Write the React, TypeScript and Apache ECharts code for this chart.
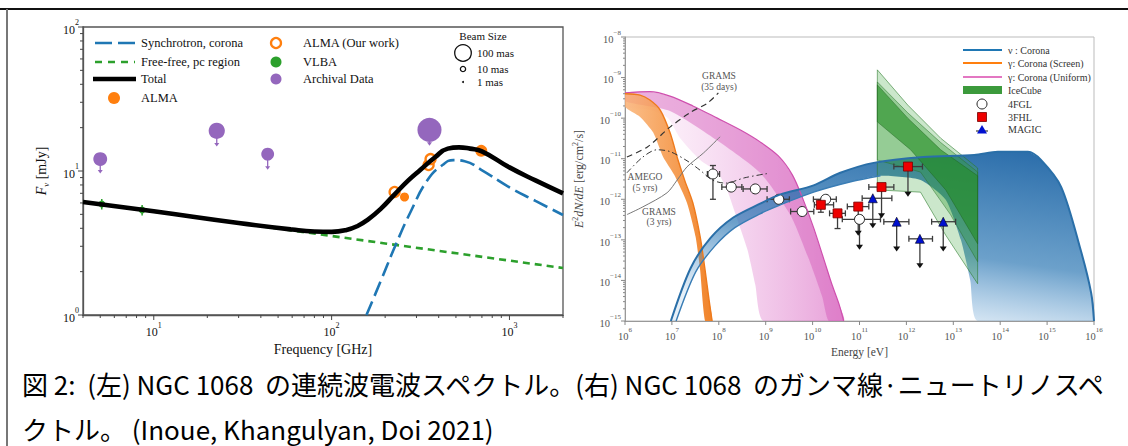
import React, { useEffect, useRef } from "react";
import * as echarts from "echarts";

// ================= Left panel: NGC 1068 radio continuum (GHz, mJy) =================
const ffFreq = [4, 30, 200, 2000];
const ffFlux = [6.1, 4.35, 3.14, 2.12];
const syncFreq = [157, 190, 229, 280, 347, 420, 484, 560, 694, 1000, 1400, 2000];
const syncFlux = [1.0, 1.75, 3.06, 5.3, 8.7, 11.0, 11.9, 11.7, 10.2, 7.7, 6.2, 4.95];
const totalFreq = [4, 10, 30, 60, 80, 100, 120, 140, 160, 190, 224, 270, 316, 380, 450, 520, 600, 700, 1000, 1400, 2000];
const totalFlux = [6.1, 5.25, 4.35, 3.92, 3.8, 3.78, 3.88, 4.15, 4.6, 5.5, 6.8, 8.6, 10.2, 12.4, 14.3, 14.6, 14.3, 13.7, 10.6, 8.6, 7.0];
const vlbaFreq = [5.1, 8.6];
const vlbaFlux = [5.9, 5.36];
const vlbaErr = [0.5, 0.45];
const almaFreq = [257, 694];
const almaFlux = [6.6, 13.8];
const almaOursFreq = [226, 351, 360];
const almaOursFlux = [7.15, 11.0, 12.1];
const archFreq = [5.0, 22.6, 43.7, 355];
const archFlux = [12.1, 19.0, 13.1, 19.3];
const archLimitTip = [9.7, 14.9, 10.3, 15.1];
const archBeamMas = [70, 95, 60, 210];
const beamLegendMas = [100, 10, 1];

// ================= Right panel: gamma-ray / neutrino spectrum (eV, erg/cm2/s) =================
const screenUpper = [[1e6, 4.0e-10], [2.1e6, 3.7e-10], [3.4e6, 2.8e-10], [5.6e6, 1.6e-10], [9.1e6, 4.4e-11], [1.35e7, 9.3e-12], [1.9e7, 2.8e-12], [2.8e7, 8.1e-13], [4.0e7, 1.2e-13], [5.1e7, 1.8e-14], [6.2e7, 3.3e-15], [7.2e7, 1e-15]];
const screenLower = [[1e6, 1.9e-10], [2.1e6, 1.07e-10], [4.0e6, 4.4e-11], [6.5e6, 1.1e-11], [1.12e7, 4.0e-12], [2.1e7, 8.1e-13], [3.2e7, 1.2e-13], [4.0e7, 1.8e-14], [5.1e7, 1e-15]];
const uniformUpper = [[1e6, 4.2e-10], [3.4e6, 4.5e-10], [9.1e6, 3.5e-10], [2.8e7, 2.0e-10], [9.3e7, 1.0e-10], [2.9e8, 5.1e-11], [7.6e8, 2.6e-11], [1.86e9, 1.17e-11], [3.7e9, 4.0e-12], [6.3e9, 9.8e-13], [1.05e10, 2.0e-13], [1.7e10, 3.6e-14], [2.6e10, 7.8e-15], [3.7e10, 2.5e-15], [4.6e10, 1e-15]];
const uniformCoreLower = [[1e6, 2.6e-10], [9.1e6, 1.5e-10], [9.3e7, 2.8e-11], [7.6e8, 4.5e-12], [3.4e9, 4.0e-13], [8.2e9, 3.5e-14], [1.6e10, 4.0e-15], [2.2e10, 1e-15]];
const uniformLower = [[1e6, 1.9e-10], [3.4e6, 1.6e-10], [8.3e6, 1.0e-10], [1.5e7, 3.2e-11], [4.0e7, 9.3e-12], [9.3e7, 4.7e-12], [1.5e8, 1.7e-12], [2.5e8, 3.1e-13], [4.1e8, 5.6e-14], [6.0e8, 7.8e-15], [8.9e8, 1e-15]];
const nuUpper = [[9.5e6, 1e-15], [2.5e7, 2.0e-14], [6.6e7, 1.1e-13], [2.0e8, 3.5e-13], [7.6e8, 7.8e-13], [2.0e9, 1.3e-12], [1.05e10, 2.2e-12], [3.9e10, 4.5e-12], [2.0e11, 7.9e-12], [2.3e12, 1.1e-11], [2.8e13, 1.23e-11], [8.9e13, 1.48e-11], [3.9e14, 1.48e-11], [7.4e14, 9.3e-12], [2.0e15, 2.0e-12], [5.2e15, 5.6e-14], [8.7e15, 4.9e-15], [1e16, 1e-15]];
const nuLower = [[1.23e7, 1e-15], [3.2e7, 1.6e-14], [8.3e7, 7.1e-14], [2.2e8, 2.0e-13], [7.6e8, 4.4e-13], [2.0e9, 7.2e-13], [1.05e10, 1.5e-12], [6.5e10, 2.7e-12], [2.8e11, 3.8e-12], [2.0e12, 3.0e-12], [6.9e12, 9.8e-13], [1.45e13, 1.0e-13], [2.3e13, 1.0e-14], [3.3e13, 1e-15]];
const iceOuterUpper = [[2.4e11, 1.55e-9], [1.07e12, 2.1e-10], [5.4e12, 3.2e-11], [3.3e13, 5.9e-12]];
const iceOuterLower = [[2.4e11, 1.7e-12], [2.0e12, 1.5e-12], [6.9e12, 1.3e-13], [3.3e13, 8.3e-15]];
const iceMidUpper = [[2.4e11, 7.8e-10], [1.07e12, 1.35e-10], [5.4e12, 2.5e-11], [3.3e13, 4.7e-12]];
const iceMidLower = [[2.4e11, 9.3e-12], [2.0e12, 4.7e-12], [8.7e12, 4.2e-13], [3.3e13, 2.9e-14]];
const iceInnerUpper = [[2.4e11, 6.6e-10], [1.07e12, 1.0e-10], [5.4e12, 1.66e-11], [3.3e13, 3.8e-12]];
const iceInnerLower = [[2.4e11, 8.1e-11], [1.23e12, 1.66e-11], [6.9e12, 1.7e-12], [3.3e13, 8.0e-14]];
const grams35 = [[1.1e6, 1.1e-11], [3.0e6, 1.95e-11], [9.1e6, 6.0e-11], [2.5e7, 1.4e-10], [5.6e7, 2.3e-10], [9.8e7, 4.2e-10]];
const amego5 = [[1.1e6, 4.5e-12], [2.4e6, 1.1e-11], [4.8e6, 1.66e-11], [9.1e6, 1.5e-11], [2.1e7, 8.9e-12], [4.0e7, 5.2e-12], [7.2e7, 3.0e-12], [1.38e8, 2.5e-12], [3.6e8, 3.4e-12], [1.07e9, 4.3e-12]];
const grams3 = [[1.1e6, 4.2e-13], [2.4e6, 6.5e-13], [7.9e6, 1.45e-12], [1.3e7, 3.0e-12], [2.1e7, 6.3e-12], [4.7e7, 1.38e-11], [1.07e8, 3.5e-11]];

const fglE = [7.5e7, 1.84e8, 6.0e8, 1.9e9, 6.0e9, 1.9e10, 1.0e11];
const fglF = [4.2e-12, 2.0e-12, 1.8e-12, 1.0e-12, 5.0e-13, 1.0e-12, 3.2e-13];
const fglElo = [5.7e7, 1.16e8, 3.3e8, 1.07e9, 3.4e9, 1.04e10, 4.3e10];
const fglEhi = [1.04e8, 3.1e8, 1.07e9, 3.2e9, 1.06e10, 3.2e10, 2.8e11];
const fglFlo = [1.0e-12, null, null, null, null, null, null];
const fglFhi = [6.8e-12, null, null, null, null, null, null];
const fglUL = [null, null, null, null, null, null, 5.7e-14];

const fhlE = [1.5e10, 3.4e10, 9.4e10, 2.95e11, 1.08e12];
const fhlF = [7.3e-13, 4.5e-13, 6.6e-13, 2.0e-12, 6.4e-12];
const fhlElo = [1.09e10, 2.3e10, 5.5e10, 1.58e11, 5.4e11];
const fhlEhi = [2.8e10, 5.0e10, 1.58e11, 5.4e11, 2.2e12];
const fhlFlo = [4.8e-13, 1.9e-13, null, null, null];
const fhlFhi = [9.7e-13, 4.5e-13, null, null, null];
const fhlUL = [null, null, 1.26e-13, 3.4e-13, 1.16e-12];

const magE = [1.92e11, 6.2e11, 1.94e12, 6.1e12];
const magF = [1.06e-12, 2.8e-13, 1.06e-13, 2.8e-13];
const magElo = [1.14e11, 3.3e11, 1.13e12, 3.45e12];
const magEhi = [4.9e11, 1.13e12, 3.6e12, 1.12e13];
const magUL = [1.94e-13, 5.2e-14, 2.0e-14, 5.2e-14];

const captionLine1 = "図 2:  (左) NGC 1068  の連続波電波スペクトル。(右) NGC 1068  のガンマ線·ニュートリノスペ";
const captionLine2 = "クトル。 (Inoue, Khangulyan, Doi 2021)";

// ================= helpers =================
const SERIF = "'Liberation Serif', 'DejaVu Serif', serif";
const lg = (v: number) => Math.log10(v);
const toLog = (pts: number[][]) => pts.map((p) => [lg(p[0]), lg(p[1])]);

function powLabel(v: number) {
  const k = Math.round(v);
  if (Math.abs(v - k) > 1e-6) return "";
  return `{b|10}{s|${k < 0 ? "\u2212" + -k : k}}`;
}
function powRich(size: number, color: string) {
  return {
    b: { fontSize: size, fontFamily: SERIF, color, lineHeight: size + 5, verticalAlign: "bottom" },
    s: { fontSize: Math.round(size * 0.7), fontFamily: SERIF, color, lineHeight: Math.round(size * 0.8), verticalAlign: "top" },
  };
}

function tickSeries(gi: number, data: number[][], color: string, dir: "down" | "left") {
  return {
    type: "custom", xAxisIndex: gi, yAxisIndex: gi, z: 10, silent: true,
    data, encode: { x: 0, y: 1 },
    renderItem: (params: any, api: any) => {
      const p = api.coord([api.value(0), api.value(1)]);
      const len = api.value(2);
      const shape = dir === "down"
        ? { x1: p[0], y1: p[1], x2: p[0], y2: p[1] + len }
        : { x1: p[0] - len, y1: p[1], x2: p[0], y2: p[1] };
      return { type: "line", shape, style: { stroke: color, lineWidth: 1 } };
    },
  };
}

function decadeTicks(lo: number, hi: number) {
  const out: { v: number; major: boolean }[] = [];
  for (let d = Math.floor(lo) - 1; d <= Math.ceil(hi); d++) {
    for (let m = 1; m <= 9; m++) {
      const v = d + Math.log10(m);
      if (v < lo - 1e-9 || v > hi + 1e-9) continue;
      out.push({ v, major: m === 1 });
    }
  }
  return out;
}

function bandSeries(upper: number[][], lower: number[][], fill: any, stroke: string | null, smooth: number) {
  const poly = toLog([...upper, ...lower.slice().reverse()]);
  return {
    type: "custom", xAxisIndex: 1, yAxisIndex: 1, silent: true, clip: true,
    data: poly, encode: { x: 0, y: 1 },
    renderItem: (params: any, api: any) => {
      if (params.dataIndex !== 0) return null;
      const points = poly.map((p) => api.coord(p));
      return {
        type: "polygon",
        shape: { points, smooth },
        style: { fill, stroke: stroke || "none", lineWidth: 0.8 },
      };
    },
  };
}

function edgeLine(pts: number[][], color: string, width: number, dash?: any) {
  return {
    type: "line", xAxisIndex: 1, yAxisIndex: 1, silent: true, symbol: "none", smooth: 0.3,
    data: toLog(pts),
    lineStyle: { color, width, type: dash || "solid" },
  };
}

function errBarSeries(E: number[], F: number[], xlo: number[], xhi: number[], ylo: any[] | null, yhi: any[] | null, ul: any[] | null) {
  return {
    type: "custom", xAxisIndex: 1, yAxisIndex: 1, silent: true,
    data: E.map((e, i) => [lg(e), lg(F[i])]), encode: { x: 0, y: 1 },
    renderItem: (params: any, api: any) => {
      const i = params.dataIndex;
      const yv = lg(F[i]);
      const c = api.coord([lg(E[i]), yv]);
      const a = api.coord([lg(xlo[i]), yv]);
      const b = api.coord([lg(xhi[i]), yv]);
      const st = { stroke: "#3c3c3c", lineWidth: 1.3 };
      const ch: any[] = [
        { type: "line", shape: { x1: a[0], y1: a[1], x2: b[0], y2: b[1] }, style: st },
        { type: "line", shape: { x1: a[0], y1: a[1] - 3, x2: a[0], y2: a[1] + 3 }, style: st },
        { type: "line", shape: { x1: b[0], y1: b[1] - 3, x2: b[0], y2: b[1] + 3 }, style: st },
      ];
      if (ylo && ylo[i] != null) {
        const lo = api.coord([lg(E[i]), lg(ylo[i])]);
        const hi = api.coord([lg(E[i]), lg(yhi![i])]);
        ch.push({ type: "line", shape: { x1: lo[0], y1: lo[1], x2: hi[0], y2: hi[1] }, style: st });
        ch.push({ type: "line", shape: { x1: lo[0] - 3, y1: lo[1], x2: lo[0] + 3, y2: lo[1] }, style: st });
        ch.push({ type: "line", shape: { x1: hi[0] - 3, y1: hi[1], x2: hi[0] + 3, y2: hi[1] }, style: st });
      }
      if (ul && ul[i] != null) {
        const t = api.coord([lg(E[i]), lg(ul[i])]);
        ch.push({ type: "line", shape: { x1: c[0], y1: c[1], x2: t[0], y2: t[1] - 4 }, style: st });
        ch.push({ type: "polygon", shape: { points: [[t[0] - 3.5, t[1] - 5], [t[0] + 3.5, t[1] - 5], [t[0], t[1]]] }, style: { fill: "#111" } });
      }
      return { type: "group", children: ch };
    },
  };
}

function buildOption() {
  const LX = [lg(4), lg(2000)];
  const LY = [0, 2];
  const RX = [6, 16];
  const RY = [-15, -8];

  const leftXTicks = decadeTicks(LX[0], LX[1]).map((t) => [t.v, LY[0], t.major ? 5 : 3]);
  const leftYTicks = decadeTicks(LY[0], LY[1]).map((t) => [LX[0], t.v, t.major ? 5 : 3]);
  const rightYTicks = decadeTicks(RY[0], RY[1]).map((t) => [RX[0], t.v, t.major ? 4 : 2]);
  const rightXTicks = decadeTicks(RX[0], RX[1]).filter((t) => t.major).map((t) => [t.v, RY[0], 4]);

  const leftAxisCommon = {
    axisLine: { show: true, lineStyle: { color: "#555", width: 1.3 } },
    axisTick: { show: false },
    splitLine: { show: false },
  };
  const rightAxisCommon = {
    axisLine: { show: true, lineStyle: { color: "#999", width: 1 } },
    axisTick: { show: false },
    splitLine: { show: false },
  };

  const series: any[] = [
    // ---------- left ----------
    {
      type: "line", xAxisIndex: 0, yAxisIndex: 0, silent: true, symbol: "none",
      data: ffFreq.map((f, i) => [lg(f), lg(ffFlux[i])]),
      lineStyle: { color: "#2ca02c", width: 2.6, type: [7, 5] },
    },
    {
      type: "line", xAxisIndex: 0, yAxisIndex: 0, silent: true, symbol: "none", smooth: 0.5,
      data: syncFreq.map((f, i) => [lg(f), lg(syncFlux[i])]),
      lineStyle: { color: "#1f77b4", width: 2.6, type: [15, 6] },
    },
    {
      type: "line", xAxisIndex: 0, yAxisIndex: 0, silent: true, symbol: "none", smooth: 0.5,
      data: totalFreq.map((f, i) => [lg(f), lg(totalFlux[i])]),
      lineStyle: { color: "#000", width: 4.6 },
    },
    {
      type: "custom", xAxisIndex: 0, yAxisIndex: 0, silent: true,
      data: archFreq.map((f, i) => [lg(f), lg(archFlux[i])]), encode: { x: 0, y: 1 },
      renderItem: (params: any, api: any) => {
        const i = params.dataIndex;
        const c = api.coord([lg(archFreq[i]), lg(archFlux[i])]);
        const t = api.coord([lg(archFreq[i]), lg(archLimitTip[i])]);
        return {
          type: "group",
          children: [
            { type: "line", shape: { x1: c[0], y1: c[1], x2: t[0], y2: t[1] - 2 }, style: { stroke: "#9467bd", lineWidth: 1.3 } },
            { type: "polygon", shape: { points: [[t[0] - 2.5, t[1] - 3], [t[0] + 2.5, t[1] - 3], [t[0], t[1] + 0.5]] }, style: { fill: "#9467bd" } },
          ],
        };
      },
    },
    {
      type: "custom", xAxisIndex: 0, yAxisIndex: 0, silent: true,
      data: vlbaFreq.map((f, i) => [lg(f), lg(vlbaFlux[i])]), encode: { x: 0, y: 1 },
      renderItem: (params: any, api: any) => {
        const i = params.dataIndex;
        const lo = api.coord([lg(vlbaFreq[i]), lg(vlbaFlux[i] - vlbaErr[i])]);
        const hi = api.coord([lg(vlbaFreq[i]), lg(vlbaFlux[i] + vlbaErr[i])]);
        return { type: "line", shape: { x1: lo[0], y1: lo[1], x2: hi[0], y2: hi[1] }, style: { stroke: "#2ca02c", lineWidth: 1.5 } };
      },
    },
    {
      type: "scatter", xAxisIndex: 0, yAxisIndex: 0, silent: true,
      data: archFreq.map((f, i) => ({ value: [lg(f), lg(archFlux[i])], symbolSize: 1.66 * Math.sqrt(archBeamMas[i]) })),
      itemStyle: { color: "#9467bd", opacity: 1 },
    },
    {
      type: "scatter", xAxisIndex: 0, yAxisIndex: 0, silent: true, symbolSize: 7,
      data: vlbaFreq.map((f, i) => [lg(f), lg(vlbaFlux[i])]),
      itemStyle: { color: "#2ca02c", opacity: 1 },
    },
    {
      type: "scatter", xAxisIndex: 0, yAxisIndex: 0, silent: true,
      data: almaFreq.map((f, i) => ({ value: [lg(f), lg(almaFlux[i])], symbolSize: i === 0 ? 9 : 12 })),
      itemStyle: { color: "#ff7f0e", opacity: 1 },
    },
    {
      type: "scatter", xAxisIndex: 0, yAxisIndex: 0, silent: true, symbolSize: 10,
      data: almaOursFreq.map((f, i) => [lg(f), lg(almaOursFlux[i])]),
      itemStyle: { color: "#fff", borderColor: "#ff7f0e", borderWidth: 2.3, opacity: 1 },
    },
    tickSeries(0, leftXTicks, "#444", "down"),
    tickSeries(0, leftYTicks, "#444", "left"),

    // ---------- right ----------
    bandSeries(uniformUpper, uniformLower,
      new echarts.graphic.LinearGradient(1, 0, 0.1, 0, [
        { offset: 0, color: "rgba(215,95,190,0.6)" },
        { offset: 0.6, color: "rgba(228,140,212,0.32)" },
        { offset: 1, color: "rgba(238,170,225,0.14)" },
      ]), null, 0.2),
    bandSeries(uniformUpper, uniformCoreLower, "rgba(210,80,180,0.42)", null, 0.2),
    edgeLine(uniformUpper, "#cf50ae", 1.2),
    bandSeries(screenUpper, screenLower,
      new echarts.graphic.LinearGradient(1, 0, 0, 0, [
        { offset: 0, color: "rgba(240,125,30,0.95)" },
        { offset: 1, color: "rgba(250,175,110,0.8)" },
      ]), null, 0.2),
    edgeLine(screenUpper, "#ee7a1c", 1.4),
    bandSeries(nuUpper, nuLower,
      new echarts.graphic.LinearGradient(0.9, 0, 0.55, 1, [
        { offset: 0, color: "rgba(30,100,165,0.95)" },
        { offset: 0.6, color: "rgba(45,120,180,0.7)" },
        { offset: 1, color: "rgba(90,155,210,0.15)" },
      ]), null, 0.2),
    edgeLine(nuUpper, "#2a6fa8", 2),
    edgeLine(nuLower.slice(0, 9), "#3a7db5", 1.4),
    bandSeries(iceOuterUpper, iceOuterLower, "rgba(70,170,70,0.28)", "rgba(40,120,40,0.7)", 0),
    bandSeries(iceMidUpper, iceMidLower, "rgba(50,155,50,0.35)", "rgba(40,110,40,0.6)", 0),
    bandSeries(iceInnerUpper, iceInnerLower, "rgba(35,140,35,0.6)", "rgba(30,100,30,0.6)", 0),
    edgeLine(grams35, "#333", 1.2, [6, 4]),
    edgeLine(amego5, "#333", 1, [6, 3, 1.5, 3]),
    edgeLine(grams3, "#777", 1),
    errBarSeries(fglE, fglF, fglElo, fglEhi, fglFlo, fglFhi, fglUL),
    errBarSeries(fhlE, fhlF, fhlElo, fhlEhi, fhlFlo, fhlFhi, fhlUL),
    errBarSeries(magE, magF, magElo, magEhi, null, null, magUL),
    {
      type: "scatter", xAxisIndex: 1, yAxisIndex: 1, silent: true, symbol: "circle", symbolSize: 10,
      data: fglE.map((e, i) => [lg(e), lg(fglF[i])]),
      itemStyle: { color: "#fff", borderColor: "#222", borderWidth: 1, opacity: 1 },
    },
    {
      type: "scatter", xAxisIndex: 1, yAxisIndex: 1, silent: true, symbol: "rect", symbolSize: 9,
      data: fhlE.map((e, i) => [lg(e), lg(fhlF[i])]),
      itemStyle: { color: "#ee0000", borderColor: "#700", borderWidth: 0.8, opacity: 1 },
    },
    {
      type: "scatter", xAxisIndex: 1, yAxisIndex: 1, silent: true, symbol: "triangle", symbolSize: 9,
      data: magE.map((e, i) => [lg(e), lg(magF[i])]),
      itemStyle: { color: "#0010d0", borderColor: "#001", borderWidth: 0.6, opacity: 1 },
    },
    tickSeries(1, rightXTicks, "#888", "down"),
    tickSeries(1, rightYTicks, "#888", "left"),
  ];

  const T = (x: number, y: number, text: string, size: number, opts: any = {}) => ({
    type: "text", x, y, silent: true,
    style: {
      text, fontSize: size, fontFamily: opts.family || SERIF, fill: opts.color || "#111",
      fontStyle: opts.italic ? "italic" : "normal",
      align: opts.align || "left", textAlign: opts.align || "left",
      verticalAlign: "middle", textVerticalAlign: "middle",
    },
    scaleX: opts.scaleX || 1,
  });

  const beamR = beamLegendMas.map((m) => 0.83 * Math.sqrt(m));

  const graphic: any[] = [
    // outer frame
    { type: "line", shape: { x1: 0, y1: 9, x2: 1128, y2: 9 }, style: { stroke: "#111", lineWidth: 2 } },
    { type: "line", shape: { x1: 7, y1: 9, x2: 7, y2: 446 }, style: { stroke: "#777", lineWidth: 2 } },
    // left legend
    { type: "line", shape: { x1: 95, y1: 43, x2: 135, y2: 43 }, style: { stroke: "#1f77b4", lineWidth: 2.6, lineDash: [17, 6] } },
    { type: "line", shape: { x1: 95, y1: 62, x2: 135, y2: 62 }, style: { stroke: "#2ca02c", lineWidth: 2.6, lineDash: [7, 6] } },
    { type: "line", shape: { x1: 93, y1: 79, x2: 136, y2: 79 }, style: { stroke: "#000", lineWidth: 4.6 } },
    { type: "circle", shape: { cx: 114, cy: 98, r: 6 }, style: { fill: "#ff7f0e" } },
    T(141, 43, "Synchrotron, corona", 12.5),
    T(141, 62, "Free-free, pc region", 12.5),
    T(141, 79, "Total", 12.5),
    T(141, 98, "ALMA", 12.5),
    { type: "circle", shape: { cx: 276, cy: 43, r: 5 }, style: { fill: "#fff", stroke: "#ff7f0e", lineWidth: 2.3 } },
    { type: "circle", shape: { cx: 276, cy: 62, r: 5.5 }, style: { fill: "#2ca02c" } },
    { type: "circle", shape: { cx: 276, cy: 79, r: 5.5 }, style: { fill: "#9467bd" } },
    T(303, 43, "ALMA (Our work)", 12.5),
    T(303, 62, "VLBA", 12.5),
    T(303, 79, "Archival Data", 12.5),
    T(483, 36, "Beam Size", 11, { align: "center" }),
    { type: "circle", shape: { cx: 463, cy: 53, r: beamR[0] }, style: { fill: "none", stroke: "#111", lineWidth: 1.3 } },
    { type: "circle", shape: { cx: 463, cy: 69, r: beamR[1] }, style: { fill: "none", stroke: "#111", lineWidth: 1.3 } },
    { type: "circle", shape: { cx: 463, cy: 82, r: Math.max(beamR[2], 1) }, style: { fill: "#111" } },
    T(477, 53, "100 mas", 11),
    T(477, 69, "10 mas", 11),
    T(477, 82, "1 mas", 11),
    // right legend
    { type: "line", shape: { x1: 963, y1: 50, x2: 1002, y2: 50 }, style: { stroke: "#1f77b4", lineWidth: 2 } },
    { type: "line", shape: { x1: 963, y1: 63, x2: 1002, y2: 63 }, style: { stroke: "#ff7f0e", lineWidth: 2 } },
    { type: "line", shape: { x1: 963, y1: 77, x2: 1002, y2: 77 }, style: { stroke: "#e377c2", lineWidth: 2 } },
    { type: "rect", shape: { x: 963, y: 86, width: 39, height: 8 }, style: { fill: "#3c9a3c" } },
    { type: "circle", shape: { cx: 982, cy: 104, r: 5 }, style: { fill: "#fff", stroke: "#222", lineWidth: 1 } },
    { type: "rect", shape: { x: 977.5, y: 112.5, width: 9, height: 9 }, style: { fill: "#ee0000", stroke: "#700", lineWidth: 0.8 } },
    { type: "line", shape: { x1: 976, y1: 131, x2: 988, y2: 131 }, style: { stroke: "#3c3c3c", lineWidth: 1.2 } },
    { type: "polygon", shape: { points: [[982, 125], [977, 133.5], [987, 133.5]] }, style: { fill: "#0010d0" } },
    T(1008, 50, "\u03bd : Corona", 10, { color: "#333" }),
    T(1008, 63, "\u03b3: Corona (Screen)", 10, { color: "#333" }),
    T(1008, 77, "\u03b3: Corona (Uniform)", 10, { color: "#333" }),
    T(1008, 90, "IceCube", 10, { color: "#333" }),
    T(1008, 104, "4FGL", 10, { color: "#333" }),
    T(1008, 117, "3FHL", 10, { color: "#333" }),
    T(1008, 129, "MAGIC", 10, { color: "#333" }),
    // right annotations
    T(719, 76, "GRAMS", 9.5, { color: "#555", align: "center" }),
    T(719, 87, "(35 days)", 9.5, { color: "#555", align: "center" }),
    T(645, 177, "AMEGO", 9.5, { color: "#555", align: "center" }),
    T(645, 188, "(5 yrs)", 9.5, { color: "#555", align: "center" }),
    T(659, 212, "GRAMS", 9.5, { color: "#555", align: "center" }),
    T(659, 222, "(3 yrs)", 9.5, { color: "#555", align: "center" }),
    // caption
    T(22, 383, captionLine1, 26, { family: "'Noto Sans CJK JP', sans-serif", color: "#000" }),
    T(22, 428, captionLine2, 26, { family: "'Noto Sans CJK JP', sans-serif", color: "#000" }),
  ];

  return {
    animation: false,
    backgroundColor: "#fff",
    grid: [
      { left: 83, top: 27, width: 480, height: 288, show: true, borderColor: "#555", borderWidth: 1.3, backgroundColor: "transparent" },
      { left: 625, top: 37, width: 469, height: 284, show: true, borderColor: "#bbb", borderWidth: 1, backgroundColor: "transparent" },
    ],
    xAxis: [
      {
        gridIndex: 0, type: "value", min: LX[0], max: LX[1], splitNumber: 2, minInterval: 1, maxInterval: 1,
        ...leftAxisCommon,
        axisLabel: { formatter: powLabel, margin: 6, rich: powRich(12, "#111") },
        name: "Frequency [GHz]", nameLocation: "middle", nameGap: 24,
        nameTextStyle: { fontFamily: SERIF, fontSize: 14, color: "#111" },
      },
      {
        gridIndex: 1, type: "value", min: RX[0], max: RX[1], interval: 1,
        ...rightAxisCommon,
        axisLabel: { formatter: powLabel, margin: 5, rich: powRich(10.5, "#555") },
        name: "Energy [eV]", nameLocation: "middle", nameGap: 21,
        nameTextStyle: { fontFamily: SERIF, fontSize: 11.5, color: "#444" },
      },
    ],
    yAxis: [
      {
        gridIndex: 0, type: "value", min: LY[0], max: LY[1], interval: 1,
        ...leftAxisCommon,
        axisLabel: { formatter: powLabel, margin: 4, rich: powRich(12, "#111") },
        name: "{i|F}{sub|\u03bd} [mJy]", nameLocation: "middle", nameGap: 33,
        nameTextStyle: {
          fontFamily: SERIF, fontSize: 14, color: "#111", lineHeight: 18,
          rich: {
            i: { fontFamily: SERIF, fontSize: 14, fontStyle: "italic", color: "#111", lineHeight: 18 },
            sub: { fontFamily: SERIF, fontSize: 9, fontStyle: "italic", color: "#111", lineHeight: 9, verticalAlign: "bottom" },
          },
        },
      },
      {
        gridIndex: 1, type: "value", min: RY[0], max: RY[1], interval: 1,
        ...rightAxisCommon,
        axisLabel: { formatter: powLabel, margin: 4, rich: powRich(10.5, "#555") },
        name: "{i|E}{sup|2}{i|dN/dE} [erg/cm{sup|2}/s]", nameLocation: "middle", nameGap: 38,
        nameTextStyle: {
          fontFamily: SERIF, fontSize: 12, color: "#444", lineHeight: 16,
          rich: {
            i: { fontFamily: SERIF, fontSize: 12, fontStyle: "italic", color: "#444", lineHeight: 16 },
            sup: { fontFamily: SERIF, fontSize: 8, color: "#444", lineHeight: 9, verticalAlign: "top" },
          },
        },
      },
    ],
    series,
    graphic,
  };
}

export default function App() {
  const ref = useRef<HTMLDivElement>(null);
  useEffect(() => {
    if (!ref.current) return;
    const chart = echarts.init(ref.current, undefined, { renderer: "svg" });
    chart.setOption(buildOption() as any);
    return () => chart.dispose();
  }, []);
  return (
    <div
      ref={ref}
      style={{ position: "fixed", left: 0, top: 0, width: 1128, height: 446, background: "#fff" }}
    />
  );
}
